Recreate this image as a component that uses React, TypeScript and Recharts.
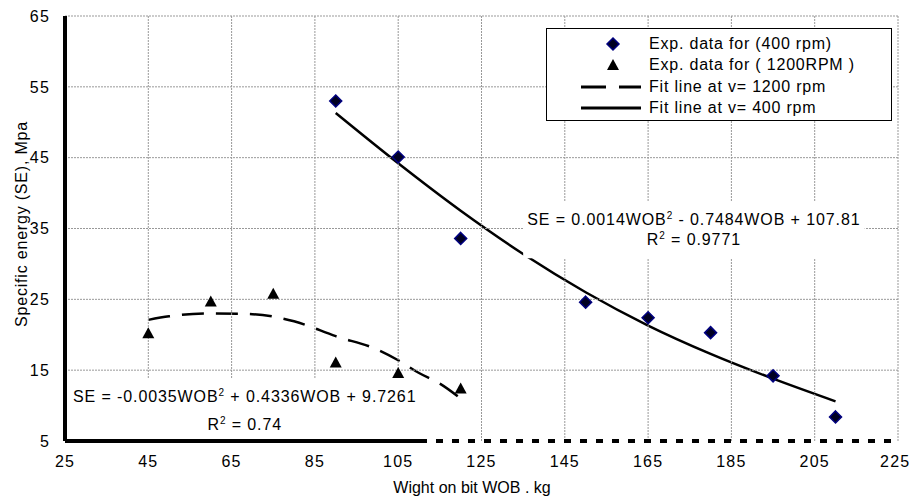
import { ComposedChart, Line, Scatter, XAxis, YAxis, Legend, ReferenceArea, ReferenceLine } from 'recharts';

const wobTicks = [25, 45, 65, 85, 105, 125, 145, 165, 185, 205, 225];
const seTicks = [5, 15, 25, 35, 45, 55, 65];

// experimental points
const wob400 = [90, 105, 120, 150, 165, 180, 195, 210];
const se400 = [53.0, 45.1, 33.6, 24.6, 22.4, 20.3, 14.2, 8.4];
const wob1200 = [45, 60, 75, 90, 105, 120];
const se1200 = [20.2, 24.7, 25.8, 16.1, 14.6, 12.4];

// fit curves
const fitWob400 = [90, 105, 120, 135, 150, 165, 180, 195, 210];
const fitSe400 = [51.3, 44.2, 37.5, 31.4, 26.0, 21.3, 17.3, 13.8, 10.6];
const fitWob1200 = [45, 50, 60, 70, 80, 90, 100, 105, 110, 115, 120];
const fitSe1200 = [22.1, 22.6, 23.0, 22.9, 21.9, 19.8, 17.9, 16.4, 14.6, 13.1, 11.0];

const legendNames = ['Exp. data for (400 rpm)', 'Exp. data for ( 1200RPM )', 'Fit line at v= 1200 rpm', 'Fit line at v= 400 rpm'];
const eq400 = [['SE = 0.0014WOB', '2', ' - 0.7484WOB + 107.81'], ['R', '2', ' = 0.9771']];
const eq1200 = [['SE = -0.0035WOB', '2', ' + 0.4336WOB + 9.7261'], ['R', '2', ' = 0.74']];

const zip = (xs: number[], ys: number[]) => xs.map((x, i) => ({ x, y: ys[i] }));
const pts400 = zip(wob400, se400);
const pts1200 = zip(wob1200, se1200);
const fit400 = zip(fitWob400, fitSe400);
const fit1200 = zip(fitWob1200, fitSe1200);

const FONT = '"Liberation Sans", Arial, sans-serif';
const GRID = { stroke: '#999', strokeWidth: 1, strokeDasharray: '2 1' };

const Diamond = (p: any) => {
  const { cx, cy } = p;
  return <polygon points={`${cx},${cy - 6} ${cx + 6},${cy} ${cx},${cy + 6} ${cx - 6},${cy}`} fill="#000022" stroke="#000080" strokeWidth={1.5} />;
};

const Triangle = (p: any) => {
  const { cx, cy } = p;
  return <polygon points={`${cx},${cy - 6} ${cx + 6},${cy + 5} ${cx - 6},${cy + 5}`} fill="#000" />;
};

const Equation = (p: any) => {
  const { viewBox, lines, first, gap } = p;
  const cx = viewBox.x + viewBox.width / 2;
  return (
    <g>
      {lines.map((l: string[], i: number) => (
        <text key={i} x={cx} y={viewBox.y + first + i * gap} textAnchor="middle" fontFamily={FONT} fontSize={16} letterSpacing={0.9} fill="#000">
          {l[0]}
          <tspan dy={-6} fontSize={10}>{l[1]}</tspan>
          <tspan dy={6}>{l[2]}</tspan>
        </text>
      ))}
    </g>
  );
};

const LegendBox = () => (
  <div style={{ width: 346, height: 93, boxSizing: 'border-box', border: '1.5px solid #000', background: '#fff', fontFamily: FONT, fontSize: 16, letterSpacing: 0.8, color: '#000', paddingTop: 4 }}>
    {legendNames.map((n, i) => (
      <div key={n} style={{ display: 'flex', alignItems: 'center', height: 21.5 }}>
        <svg width={100} height={20} style={{ flex: 'none' }}>
          {i === 0 && <polygon points="66,4 72,10 66,16 60,10" fill="#000022" stroke="#000080" strokeWidth={1.5} />}
          {i === 1 && <polygon points="66,4 72,15 60,15" fill="#000" />}
          {i === 2 && <line x1={34} x2={94} y1={10} y2={10} stroke="#000" strokeWidth={3} strokeDasharray="25 13" />}
          {i === 3 && <line x1={34} x2={94} y1={10} y2={10} stroke="#000" strokeWidth={3} />}
        </svg>
        <span style={{ marginLeft: 2, whiteSpace: 'nowrap' }}>{n}</span>
      </div>
    ))}
  </div>
);

const xAxisDash = '362 ' + Array(40).fill('9 7').join(' ');
const tickStyle = { fill: '#000', fontSize: 16, fontFamily: FONT, letterSpacing: 1.2 };

export default function App() {
  return (
    <div style={{ position: 'absolute', left: 0, top: 0, width: 909, height: 497, background: '#fff' }}>
      <ComposedChart width={909} height={497} data={fit400} margin={{ top: 16, right: 11, bottom: 26, left: 15 }}>
        {seTicks.slice(1).map((v) => (
          <ReferenceLine key={'h' + v} y={v} zIndex={420} {...GRID} />
        ))}
        {wobTicks.slice(1).map((v) => (
          <ReferenceLine key={'v' + v} x={v} zIndex={420} {...GRID} />
        ))}
        <XAxis
          dataKey="x"
          type="number"
          domain={[25, 225]}
          ticks={wobTicks}
          height={30}
          axisLine={{ stroke: '#000', strokeWidth: 4, strokeDasharray: xAxisDash }}
          tickLine={false}
          tickSize={4}
          tickMargin={11}
          tick={tickStyle}
          label={{ content: () => <text x={472} y={493} textAnchor="middle" fontFamily={FONT} fontSize={16} fill="#000">Wight on bit WOB . kg</text> }}
        />
        <YAxis
          dataKey="y"
          type="number"
          domain={[5, 65]}
          ticks={seTicks}
          width={50}
          axisLine={{ stroke: '#000', strokeWidth: 4 }}
          tickLine={false}
          tickSize={4}
          tickMargin={11}
          tick={tickStyle}
          label={{ content: () => <text x={27} y={224} transform="rotate(-90 27 224)" textAnchor="middle" fontFamily={FONT} fontSize={16} letterSpacing={0.8} fill="#000">Specific energy (SE), Mpa</text> }}
        />
        <Line data={fit1200} dataKey="y" type="monotone" stroke="#000" strokeWidth={2.5} strokeDasharray="22 12" dot={false} isAnimationActive={false} />
        <Line data={fit400} dataKey="y" type="monotone" stroke="#000" strokeWidth={2.5} dot={false} isAnimationActive={false} />
        <ReferenceArea zIndex={450} x1={135} x2={217} y1={30.8} y2={38.8} fill="#fff" fillOpacity={1} stroke="none" label={<Equation lines={eq400} first={23} gap={20} />} />
        <ReferenceArea zIndex={450} x1={25.3} x2={111} y1={5.4} y2={13.9} fill="#fff" fillOpacity={1} stroke="none" label={<Equation lines={eq1200} first={24} gap={28} />} />
        <Scatter data={pts400} dataKey="y" shape={<Diamond />} isAnimationActive={false} />
        <Scatter data={pts1200} dataKey="y" shape={<Triangle />} isAnimationActive={false} />
        <Legend
          layout="horizontal"
          verticalAlign="middle"
          align="center"
          content={() => <LegendBox />}
          wrapperStyle={{ position: 'absolute', left: 546, top: 28, width: 346, height: 93 }}
        />
      </ComposedChart>
    </div>
  );
}
